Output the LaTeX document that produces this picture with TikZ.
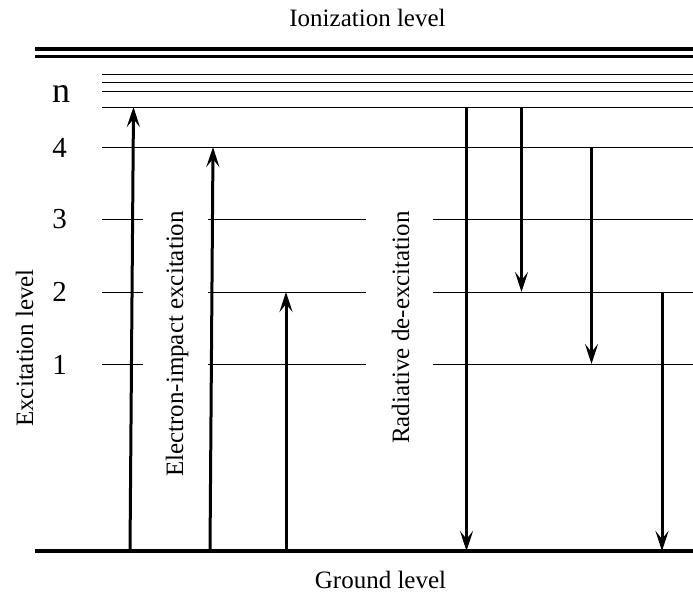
\documentclass[tikz,border=0pt]{standalone}
\usepackage{fontspec}
\setmainfont{Liberation Serif}
\usetikzlibrary{arrows.meta}
\tikzset{
  lvl/.style={line width=1pt},
  gnd/.style={line width=4pt},
  ion/.style={line width=3.5pt},
  trans/.style={-{Stealth[length=20pt,width=13pt,inset=8pt]},line width=3pt},
  lbl/.style={font=\fontsize{25}{30}\selectfont,inner sep=0pt,anchor=base},
  num/.style={font=\fontsize{29}{33}\selectfont,inner sep=0pt,anchor=base},
}

\begin{document}
\begin{tikzpicture}[x=1pt,y=-1pt]
  \useasboundingbox (0,0) rectangle (693,597);
  % ionization and ground levels
  \draw[ion] (35,49) -- (693,49);
  \draw[ion] (35,56.5) -- (693,56.5);
  \draw[gnd] (35,551) -- (693,551);
  \node[lbl] (ionlbl) at (367.5,27) {Ionization level};
  \node[lbl] (gndlbl) at (380.5,588) {Ground level};
  % excited levels
  \foreach \y in {74,82,91,107,147}
    \draw[lvl] (102,\y) -- (693,\y);
  \foreach \y in {219,292,364}{
    \draw[lvl] (102,\y) -- (143,\y);
    \draw[lvl] (208,\y) -- (366,\y);
    \draw[lvl] (433,\y) -- (693,\y);
  }
  \node[num,font=\fontsize{36}{40}\selectfont] (nn) at (61,102.5) {n};
  \node[num] (n4) at (59.5,157) {4};
  \node[num] (n3) at (59.5,228) {3};
  \node[num] (n2) at (59.5,301.5) {2};
  \node[num] (n1) at (59.5,374.5) {1};
  \node[lbl,rotate=90] (exclbl) at (33,348) {Excitation level};
  \node[lbl,rotate=90] (eilbl) at (183,344) {Electron-impact excitation};
  \node[lbl,rotate=90] (radlbl) at (409,327.5) {Radiative de-excitation};
  % transition end points
  \coordinate (u1b) at (130,551);   \coordinate (u1t) at (133.5,107);
  \coordinate (u2b) at (210,551);   \coordinate (u2t) at (213,147);
  \coordinate (u3b) at (286,551);   \coordinate (u3t) at (286,292);
  \coordinate (d1t) at (466.5,107); \coordinate (d1b) at (466.5,551);
  \coordinate (d2t) at (521.5,107); \coordinate (d2b) at (521.5,292);
  \coordinate (d3t) at (591.5,147); \coordinate (d3b) at (591.5,364);
  \coordinate (d4t) at (662,292);   \coordinate (d4b) at (662,551);
  % excitation (up) and de-excitation (down)
  \foreach \a/\b in {u1b/u1t,u2b/u2t,u3b/u3t,d1t/d1b,d2t/d2b,d3t/d3b,d4t/d4b}
    \draw[trans] (\a) -- (\b);
\end{tikzpicture}
\end{document}
